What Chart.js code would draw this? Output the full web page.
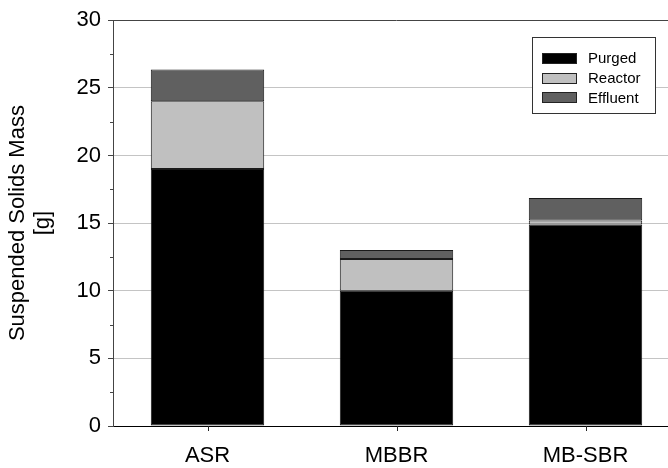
<!DOCTYPE html>
<html>
<head>
<meta charset="utf-8">
<script src="https://cdn.jsdelivr.net/npm/chart.js@4/dist/chart.umd.min.js"></script>
<style>
  html, body { margin: 0; padding: 0; background: #fff; overflow: hidden; }
  #wrap { width: 668px; height: 468px; overflow: hidden; }
  canvas { display: block; }
</style>
</head>
<body>
<div id="wrap"><canvas id="c" width="700" height="468"></canvas></div>
<script>
// Suspended solids mass per reactor configuration, split by fate
const categories = ['ASR', 'MBBR', 'MB-SBR'];
const purged   = [19.0, 10.0, 14.9];
const reactor  = [5.0, 2.35, 0.3];
const effluent = [2.35, 0.67, 1.65];

const yMin = 0, yMax = 30, yStep = 5, yMinorStep = 2.5;
const FONT = '"Liberation Sans", Arial, sans-serif';

// Minor ticks, category ticks, the top frame line and the boxed legend
const decorations = {
  id: 'decorations',
  afterDraw(chart) {
    const ctx = chart.ctx;
    const x = chart.scales.x;
    const y = chart.scales.y;
    const area = chart.chartArea;
    ctx.save();
    ctx.lineWidth = 1;
    // minor ticks on the value axis
    ctx.strokeStyle = '#444';
    for (let v = yMin + yMinorStep; v < yMax; v += yStep) {
      const py = Math.round(y.getPixelForValue(v)) + 0.5;
      ctx.beginPath();
      ctx.moveTo(area.left - 3, py);
      ctx.lineTo(area.left, py);
      ctx.stroke();
    }
    // tick marks under each category
    ctx.strokeStyle = '#222';
    x.ticks.forEach((t, i) => {
      const px = Math.round(x.getPixelForTick(i)) + 0.5;
      ctx.beginPath();
      ctx.moveTo(px, area.bottom);
      ctx.lineTo(px, area.bottom + 5);
      ctx.stroke();
    });
    // top frame line
    ctx.strokeStyle = '#444';
    ctx.beginPath();
    ctx.moveTo(area.left, Math.round(area.top) + 0.5);
    ctx.lineTo(area.right, Math.round(area.top) + 0.5);
    ctx.stroke();

    // legend box
    const bx = 532, by = 37, bw = 123, bh = 76;
    ctx.fillStyle = '#fff';
    ctx.fillRect(bx, by, bw, bh);
    ctx.strokeStyle = '#333';
    ctx.strokeRect(bx + 0.5, by + 0.5, bw, bh);
    ctx.font = '15px ' + FONT;
    ctx.textBaseline = 'middle';
    chart.data.datasets.forEach((ds, i) => {
      const ry = 53 + i * 19.7;
      ctx.fillStyle = ds.backgroundColor;
      ctx.fillRect(542, Math.round(ry), 35, 11);
      ctx.strokeStyle = '#222';
      ctx.strokeRect(542.5, Math.round(ry) + 0.5, 34, 10);
      ctx.fillStyle = '#000';
      ctx.fillText(ds.label, 588, ry + 6);
    });
    ctx.restore();
  }
};

new Chart(document.getElementById('c'), {
  type: 'bar',
  data: {
    labels: categories,
    datasets: [
      { label: 'Purged',   data: purged,   backgroundColor: '#000000' },
      { label: 'Reactor',  data: reactor,  backgroundColor: '#c0c0c0' },
      { label: 'Effluent', data: effluent, backgroundColor: '#606060' }
    ].map(d => Object.assign(d, {
      borderColor: '#1a1a1a',
      borderWidth: 1,
      borderSkipped: false,
      barPercentage: 0.6,
      categoryPercentage: 1.0
    }))
  },
  options: {
    responsive: false,
    animation: false,
    devicePixelRatio: 1,
    layout: { padding: { top: 19, right: 20, left: 0, bottom: 0 } },
    plugins: { legend: { display: false }, tooltip: { enabled: false } },
    scales: {
      x: {
        stacked: true,
        offset: true,
        grid: {
          display: true,
          offset: false,
          drawOnChartArea: false,
          drawTicks: false
        },
        border: { display: true, color: '#000', width: 1 },
        ticks: {
          color: '#000',
          padding: 17,
          font: { family: FONT, size: 22 }
        },
        afterFit(scale) { scale.height = 42; }
      },
      y: {
        stacked: true,
        min: yMin,
        max: yMax,
        ticks: {
          stepSize: yStep,
          color: '#000',
          padding: 7,
          font: { family: FONT, size: 22 }
        },
        grid: {
          color: ctx => (ctx.tick && (ctx.tick.value === yMin || ctx.tick.value === yMax)) ? 'rgba(0,0,0,0)' : '#c4c4c4',
          tickColor: '#444',
          tickLength: 5,
          drawTicks: true
        },
        border: { display: true, color: '#444', width: 1 },
        title: {
          display: true,
          text: ['Suspended Solids Mass', '[g]'],
          color: '#000',
          font: { family: FONT, size: 22, lineHeight: 1.15 },
          padding: { top: 5, bottom: 0 }
        },
        afterFit(scale) { scale.width = 113; }
      }
    }
  },
  plugins: [decorations]
});
</script>
</body>
</html>
